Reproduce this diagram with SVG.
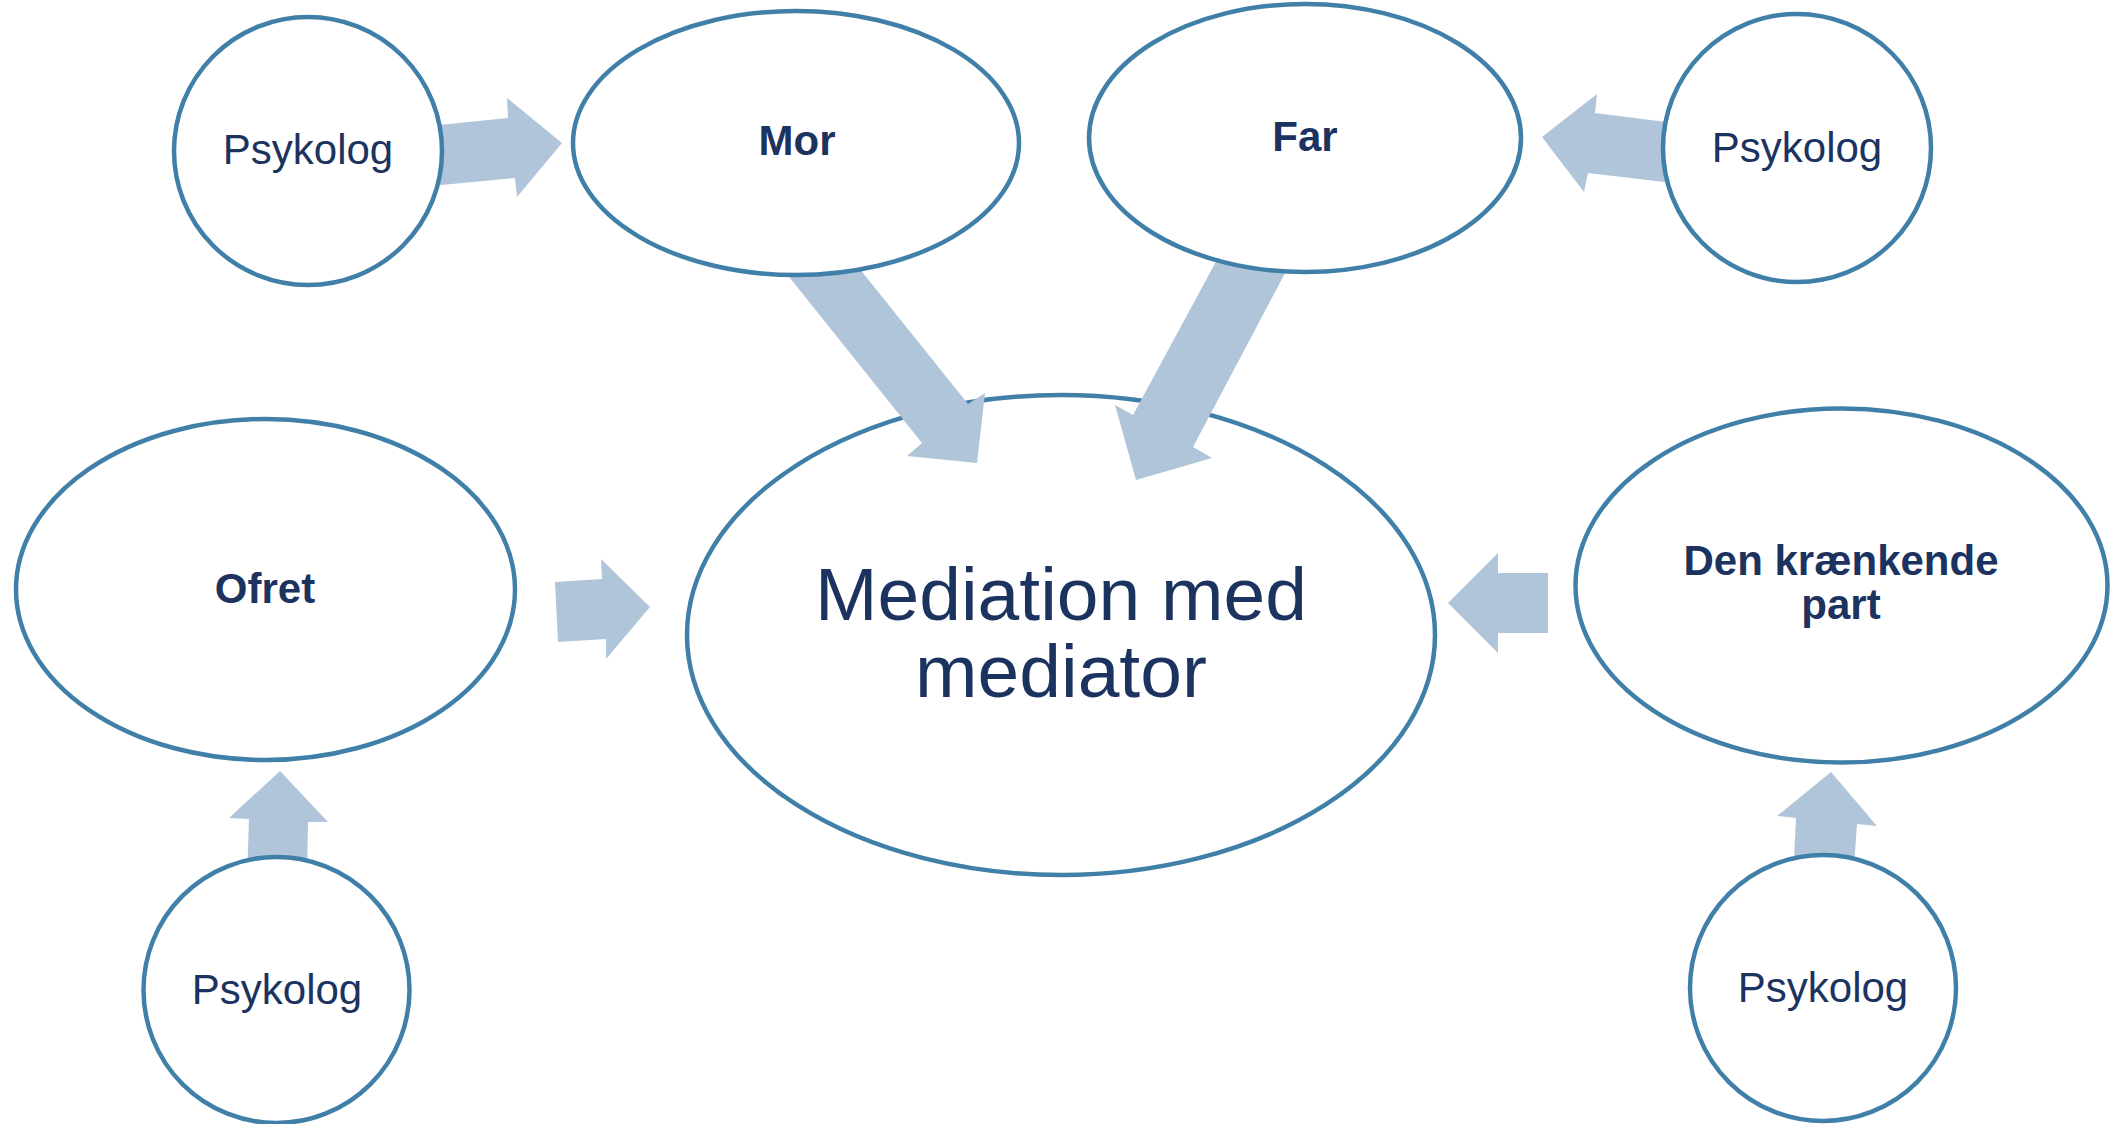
<svg xmlns="http://www.w3.org/2000/svg" width="2113" height="1124" viewBox="0 0 2113 1124">
<style>
.node{fill:#ffffff;stroke:#4080A8;stroke-width:4.5}
.arrow{fill:#B0C5D9;stroke:none}
text{font-family:"Liberation Sans",Arial,sans-serif;fill:#1C335F;text-anchor:middle}
.reg{font-size:42px}
.bold{font-size:42px;font-weight:bold}
.big{font-size:75px}
</style>
<rect width="2113" height="1124" fill="#ffffff"/>
<g id="n-mediation">
<ellipse class="node" cx="1061" cy="635" rx="374" ry="240"/>
<text class="big" x="1061" y="620">Mediation med</text>
<text class="big" x="1061" y="697">mediator</text>
</g>
<g id="connectors">
<polygon class="arrow" points="420,127 508,118 507,98 562,143 517,197 515,178 420,187"/>
<polygon class="arrow" points="1690,125 1595,113 1597,94 1542,137 1584,192 1588,173 1690,185"/>
<polygon class="arrow" points="766,248 839,243 968,404 985,393 977,463 907,456 922,443"/>
<polygon class="arrow" points="1232,232 1301,243 1193,447 1212,458 1136,480 1115,405 1133,415"/>
<polygon class="arrow" points="555,582 602,579 601,559 650,607 606,659 606,639 558,642"/>
<polygon class="arrow" points="1448,603 1498,553 1498,573 1548,573 1548,633 1498,633 1498,653"/>
<polygon class="arrow" points="280,771 328,822 308,822 307,880 247,880 249,819 229,818"/>
<polygon class="arrow" points="1831,772 1877,826 1857,824 1853,880 1793,880 1796,818 1777,816"/>
</g>
<g id="n-mor">
<ellipse class="node" cx="796" cy="143" rx="223" ry="132"/>
<text class="bold" x="797" y="155">Mor</text>
</g>
<g id="n-far">
<ellipse class="node" cx="1305" cy="138" rx="216" ry="134"/>
<text class="bold" x="1305" y="151">Far</text>
</g>
<g id="n-ofret">
<ellipse class="node" cx="265.5" cy="589.5" rx="249.5" ry="170.5"/>
<text class="bold" x="265" y="603">Ofret</text>
</g>
<g id="n-den">
<ellipse class="node" cx="1841.5" cy="585.5" rx="266" ry="177"/>
<text class="bold" x="1841" y="575">Den krænkende</text>
<text class="bold" x="1841" y="619">part</text>
</g>
<g id="n-psykolog-tl">
<circle class="node" cx="308" cy="151" r="134"/>
<text class="reg" x="308" y="164">Psykolog</text>
</g>
<g id="n-psykolog-tr">
<circle class="node" cx="1797" cy="148" r="134"/>
<text class="reg" x="1797" y="162">Psykolog</text>
</g>
<g id="n-psykolog-bl">
<circle class="node" cx="276.5" cy="990" r="133"/>
<text class="reg" x="277" y="1004">Psykolog</text>
</g>
<g id="n-psykolog-br">
<circle class="node" cx="1823" cy="988" r="133"/>
<text class="reg" x="1823" y="1002">Psykolog</text>
</g>
</svg>
